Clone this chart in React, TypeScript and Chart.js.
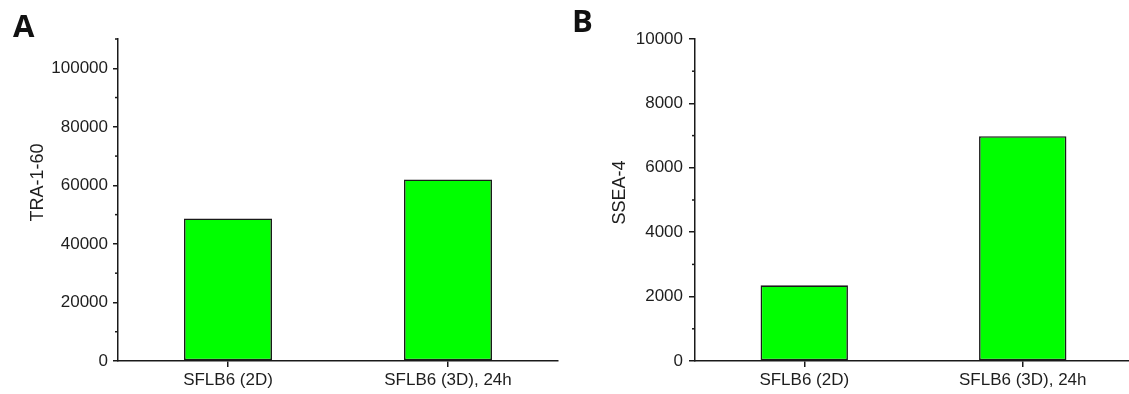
import React, { useEffect, useRef } from "react";
import { Chart, registerables } from "chart.js";

Chart.register(...registerables);

// ---- data ----
const categories = ["SFLB6 (2D)", "SFLB6 (3D), 24h"];
const traValues = [48700, 62000];
const sseaValues = [2350, 6980];
const traTitle = "TRA-1-60";
const sseaTitle = "SSEA-4";
const traMax = 110000;
const traTickValues = [0, 20000, 40000, 60000, 80000, 100000];
const traMinorStep = 10000;
const sseaMax = 10000;
const sseaTickValues = [0, 2000, 4000, 6000, 8000, 10000];
const sseaMinorStep = 1000;
const panelLabels = ["A", "B"];

// ---- style ----
const FONT = "'Liberation Sans', Arial, Helvetica, sans-serif";
const TEXT = "#1e1e1e";
const AXIS = "#1a1a1a";
const BAR = "#00ff00";

function minorTickPlugin(majors: number[], minor: number, len: number) {
  return {
    id: "minorTicks",
    afterDraw(chart: any) {
      const s = chart.scales.y;
      const ctx = chart.ctx;
      ctx.save();
      ctx.strokeStyle = AXIS;
      ctx.lineWidth = 1.5;
      for (let v = s.min; v <= s.max + 1e-6; v += minor) {
        if (majors.some((m) => Math.abs(m - v) < 1e-6)) continue;
        const y = s.getPixelForValue(v);
        ctx.beginPath();
        ctx.moveTo(s.right - len, y);
        ctx.lineTo(s.right, y);
        ctx.stroke();
      }
      ctx.restore();
    },
  };
}

type PanelProps = {
  values: number[];
  title: string;
  max: number;
  tickValues: number[];
  minor: number;
  yWidth: number;
  titlePad: number;
  padRight: number;
  tickLen: number;
  tickPad: number;
  width: number;
  left: number;
};

function Panel(p: PanelProps) {
  const ref = useRef<HTMLCanvasElement | null>(null);
  useEffect(() => {
    if (!ref.current) return;
    const chart = new Chart(ref.current, {
      type: "bar",
      data: {
        labels: categories,
        datasets: [
          {
            data: p.values,
            backgroundColor: BAR,
            borderColor: AXIS,
            borderWidth: 1.6,
            borderSkipped: false,
            barPercentage: 0.4,
            categoryPercentage: 1,
          },
        ],
      },
      options: {
        responsive: false,
        animation: false,
        events: [],
        layout: { padding: { top: 39, right: p.padRight, bottom: 0, left: 0 } },
        plugins: { legend: { display: false }, tooltip: { enabled: false } },
        scales: {
          x: {
            type: "category",
            offset: true,
            grid: {
              display: true,
              drawOnChartArea: false,
              offset: false,
              tickLength: 6,
              color: AXIS,
              tickColor: AXIS,
              lineWidth: 1.5,
            },
            border: { display: true, color: AXIS, width: 1.5 },
            ticks: {
              color: TEXT,
              font: { family: FONT, size: 17 },
              padding: 3,
              maxRotation: 0,
              autoSkip: false,
            },
            afterFit: (s: any) => {
              s.height = 33;
            },
          },
          y: {
            min: 0,
            max: p.max,
            afterBuildTicks: (s: any) => {
              s.ticks = p.tickValues.map((v) => ({ value: v }));
            },
            ticks: {
              color: TEXT,
              font: { family: FONT, size: 17 },
              padding: p.tickPad,
              autoSkip: false,
              callback: (v: any) => String(v),
            },
            grid: {
              drawOnChartArea: false,
              tickLength: p.tickLen,
              color: AXIS,
              tickColor: AXIS,
              lineWidth: 1.5,
            },
            border: { display: true, color: AXIS, width: 1.5 },
            title: {
              display: true,
              text: p.title,
              color: TEXT,
              font: { family: FONT, size: 18 },
              padding: { top: p.titlePad, bottom: 0 },
            },
            afterFit: (s: any) => {
              s.width = p.yWidth;
            },
          },
        },
      },
      plugins: [minorTickPlugin(p.tickValues, p.minor, 3)],
    } as any);
    return () => chart.destroy();
  }, []);
  return (
    <canvas
      ref={ref}
      width={p.width}
      height={394}
      style={{ position: "absolute", left: p.left, top: 0, width: p.width, height: 394, display: "block" }}
    />
  );
}

const labelStyle: React.CSSProperties = {
  position: "absolute",
  fontFamily: "'Open Sans', Arial, sans-serif",
  fontWeight: 700,
  fontSize: 31,
  lineHeight: 1,
  color: "#111",
};

export default function App() {
  return (
    <div
      style={{
        position: "fixed",
        left: 0,
        top: 0,
        width: 1129,
        height: 394,
        overflow: "hidden",
        background: "#fff",
      }}
    >
      <Panel
        values={traValues}
        title={"       " + traTitle}
        max={traMax}
        tickValues={traTickValues}
        minor={traMinorStep}
        yWidth={118}
        titlePad={27}
        padRight={8}
        tickLen={5}
        tickPad={5}
        width={566}
        left={0}
      />
      <Panel
        values={sseaValues}
        title={"   " + sseaTitle}
        max={sseaMax}
        tickValues={sseaTickValues}
        minor={sseaMinorStep}
        yWidth={129}
        titlePad={43}
        padRight={4}
        tickLen={6}
        tickPad={6}
        width={570}
        left={566}
      />
      <div style={{ ...labelStyle, left: 13, top: 10 }}>{panelLabels[0]}</div>
      <div style={{ ...labelStyle, left: 572, top: 5 }}>{panelLabels[1]}</div>
    </div>
  );
}
